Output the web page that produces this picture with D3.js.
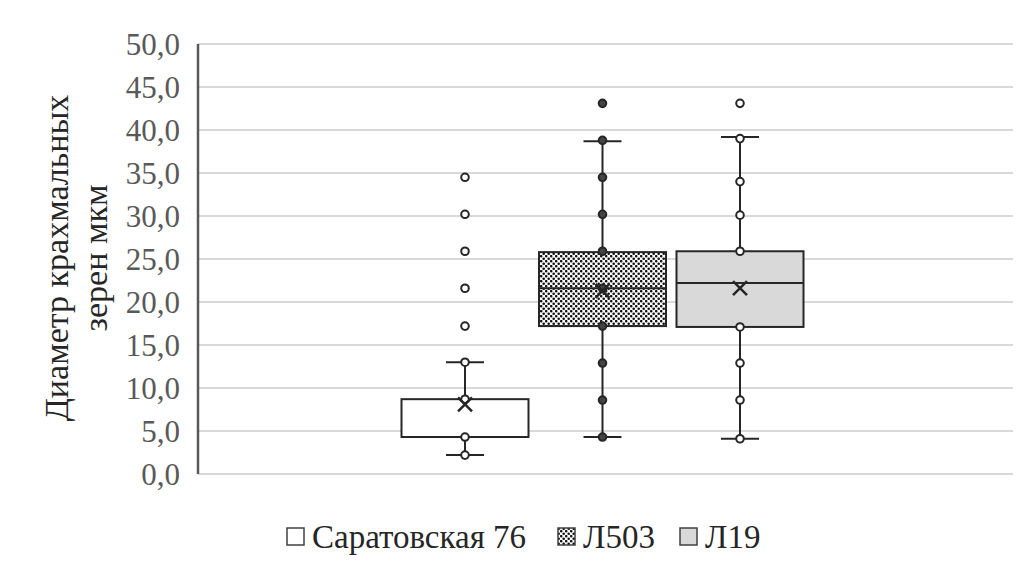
<!DOCTYPE html>
<html><head><meta charset="utf-8">
<script src="https://cdn.jsdelivr.net/npm/d3@7"></script>
<style>body{margin:0;background:#fff}svg{display:block}</style>
</head><body>
<svg id="c" width="1016" height="567"></svg>
<script>
// ---- data ----
const series = ["Саратовская 76", "Л503", "Л19"];
const yTicks = [0, 5, 10, 15, 20, 25, 30, 35, 40, 45, 50];
const q1 = [4.3, 17.2, 17.1];
const median = [4.3, 21.6, 22.2];
const q3 = [8.7, 25.8, 25.9];
const whiskerLow = [2.2, 4.3, 4.1];
const whiskerHigh = [13.0, 38.7, 39.2];
const means = [8.1, 21.3, 21.6];
const pointsSar = [2.2, 4.3, 8.7, 13.0, 17.2, 21.6, 25.9, 30.2, 34.5];
const pointsL503 = [4.3, 8.6, 12.9, 17.2, 21.6, 25.9, 30.2, 34.5, 38.8, 43.1];
const pointsL19 = [4.1, 8.6, 12.9, 17.1, 25.9, 30.1, 34.0, 39.0, 43.1];
const points = [pointsSar, pointsL503, pointsL19];

// ---- layout ----
const FONT = "'Liberation Serif'";
const svg = d3.select("#c");
const plotL = 198, plotR = 1013, plotT = 44, plotB = 474;
const y = d3.scaleLinear().domain([0, 50]).range([plotB, plotT]);
const x = d3.scaleBand().domain(series).range([401.5, 803.5]).paddingInner(0.0764);

const defs = svg.append("defs");
const pat = defs.append("pattern").attr("id", "dots").attr("patternUnits", "userSpaceOnUse")
  .attr("width", 5).attr("height", 5);
pat.append("rect").attr("width", 5).attr("height", 5).attr("fill", "#fff");
pat.append("circle").attr("cx", 1.2).attr("cy", 1.2).attr("r", 1.3).attr("fill", "#111");
pat.append("circle").attr("cx", 3.7).attr("cy", 3.7).attr("r", 1.3).attr("fill", "#111");
const fills = ["#ffffff", "url(#dots)", "#d9d9d9"];
const ptFill = ["#ffffff", "#444", "#ffffff"];

// gridlines
svg.append("g").selectAll("line").data(yTicks).join("line")
  .attr("x1", plotL).attr("x2", plotR)
  .attr("y1", d => y(d)).attr("y2", d => y(d))
  .attr("stroke", "#d9d9d9").attr("stroke-width", 2);

// y axis
const yAxis = d3.axisLeft(y).tickValues(yTicks).tickSize(0).tickPadding(18)
  .tickFormat(d => d3.format(".1f")(d).replace(".", ","));
const ga = svg.append("g").attr("transform", `translate(${plotL},0)`).call(yAxis)
  .attr("font-family", null).attr("font-size", null);
ga.select(".domain").remove();
ga.selectAll("text").style("font-family", FONT)
  .style("font-size", "31px").attr("fill", "#595959").attr("dy", "0.33em");
svg.append("line").attr("x1", plotL).attr("x2", plotL).attr("y1", plotT).attr("y2", plotB)
  .attr("stroke", "#595959").attr("stroke-width", 2.5);

// y title
const tt = svg.append("text").attr("transform", "rotate(-90)")
  .style("font-family", FONT).style("font-size", "34px")
  .attr("fill", "#262626").attr("text-anchor", "middle");
tt.append("tspan").attr("x", -258).attr("y", 68).text("Диаметр крахмальных");
tt.append("tspan").attr("x", -258).attr("y", 107).text("зерен мкм");

// boxes
const stroke = "#262626";
series.forEach((s, i) => {
  const g = svg.append("g");
  const cx = x(s) + x.bandwidth() / 2;
  const capW = 19;
  g.append("line").attr("x1", cx).attr("x2", cx).attr("y1", y(q3[i])).attr("y2", y(whiskerHigh[i]))
    .attr("stroke", stroke).attr("stroke-width", 2);
  g.append("line").attr("x1", cx).attr("x2", cx).attr("y1", y(q1[i])).attr("y2", y(whiskerLow[i]))
    .attr("stroke", stroke).attr("stroke-width", 2);
  [whiskerHigh[i], whiskerLow[i]].forEach(v => {
    g.append("line").attr("x1", cx - capW).attr("x2", cx + capW).attr("y1", y(v)).attr("y2", y(v))
      .attr("stroke", stroke).attr("stroke-width", 2);
  });
  g.append("rect").attr("x", x(s)).attr("width", x.bandwidth())
    .attr("y", y(q3[i])).attr("height", y(q1[i]) - y(q3[i]))
    .attr("fill", fills[i]).attr("stroke", stroke).attr("stroke-width", 2);
  g.append("line").attr("x1", x(s)).attr("x2", x(s) + x.bandwidth())
    .attr("y1", y(median[i])).attr("y2", y(median[i]))
    .attr("stroke", stroke).attr("stroke-width", 2);
  g.selectAll("circle").data(points[i]).join("circle")
    .attr("cx", cx).attr("cy", d => y(d)).attr("r", 3.8)
    .attr("fill", ptFill[i]).attr("stroke", stroke).attr("stroke-width", 2);
  const my = y(means[i]), m = 7;
  g.append("path").attr("d", `M${cx - m},${my - m}L${cx + m},${my + m}M${cx - m},${my + m}L${cx + m},${my - m}`)
    .attr("stroke", stroke).attr("stroke-width", 2.5).attr("fill", "none");
});

// legend
const legX = [287, 558, 680];
const lg = svg.append("g");
series.forEach((s, i) => {
  lg.append("rect").attr("x", legX[i]).attr("y", 528).attr("width", 17).attr("height", 17)
    .attr("fill", fills[i]).attr("stroke", "#404040").attr("stroke-width", 1.5);
  lg.append("text").attr("x", legX[i] + 25).attr("y", 548)
    .style("font-family", FONT).style("font-size", "33px")
    .attr("fill", "#262626").text(s);
});
</script>
</body></html>
